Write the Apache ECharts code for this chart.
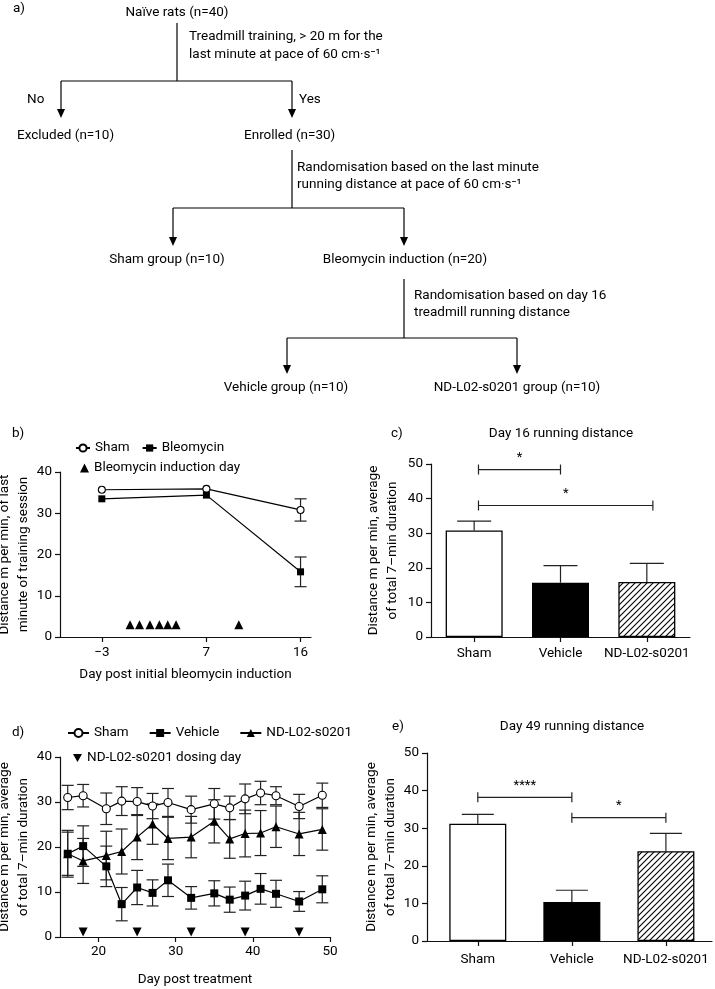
<!DOCTYPE html>
<html>
<head>
<meta charset="utf-8">
<script src="https://cdn.jsdelivr.net/npm/echarts@6/dist/echarts.min.js"></script>
<style>
  html, body { margin: 0; padding: 0; background: #fff; }
  #main { width: 715px; height: 989px; }
</style>
</head>
<body>
<div id="main"></div>
<script type="text/javascript">
    // panel b: training / bleomycin induction
    var bDays      = [-3, 7, 16];
    var bSham      = [35.7, 35.9, 30.8];
    var bShamErr   = [0, 0, 2.7];
    var bBleo      = [33.5, 34.4, 15.8];
    var bBleoErr   = [0, 0, 3.6];
    var bInduction = [-0.3, 0.6, 1.6, 2.5, 3.3, 4.1, 10.1];
    var bInductionY = 3;
    var bTicks     = [-3, 7, 16];

    // panel c + e: bar groups
    var groups   = ['Sham', 'Vehicle', 'ND-L02-s0201'];
    var cMean    = [30.8, 15.7, 15.9];
    var cErr     = [2.7, 4.9, 5.4];
    var cSig     = [[0.05, 1.0, 48.4], [0.05, 2.07, 38.0]];
    var cSigText = ['*', '*'];

    var eMean    = [31.2, 10.4, 23.9];
    var eErr     = [2.5, 3.1, 4.7];
    var eSig     = [[0, 1, 38.2], [1, 2, 32.8]];
    var eSigText = ['****', '*'];

    // panel d: time course after treatment
    var dDays    = [16, 18, 21, 23, 25, 27, 29, 32, 35, 37, 39, 41, 43, 46, 49];
    var dSham    = [31.0, 31.4, 28.5, 30.2, 30.1, 29.1, 29.9, 28.3, 29.6, 28.7, 30.7, 32.0, 31.4, 29.0, 31.5];
    var dShamErr = [2.7, 2.5, 3.5, 3.2, 3.1, 2.8, 3.1, 3.0, 3.4, 2.6, 3.3, 2.6, 2.0, 2.7, 2.7];
    var dVeh     = [18.5, 20.2, 15.7, 7.3, 11.0, 9.8, 12.6, 8.7, 9.7, 8.3, 9.2, 10.7, 9.6, 7.9, 10.6];
    var dVehErr  = [5.2, 4.5, 4.5, 3.7, 3.8, 2.9, 3.6, 2.5, 2.8, 2.8, 3.2, 3.4, 3.0, 2.2, 3.0];
    var dNd      = [18.5, 16.9, 18.1, 19.0, 22.2, 25.1, 21.9, 22.2, 25.7, 21.8, 23.0, 23.1, 24.5, 22.9, 23.9];
    var dNdErr   = [4.8, 5.0, 5.4, 5.0, 5.0, 4.5, 4.7, 4.6, 4.8, 4.3, 5.2, 5.0, 4.6, 4.8, 4.6];
    var dDosing  = [18, 25, 32, 39, 46];
    var dDosingY = 1.1;
    var dTicks   = [20, 30, 40, 50];

    var FONT = 'Roboto, "Noto Sans", sans-serif';

    function zip(xs, ys) { return xs.map(function (x, i) { return [x, ys[i]]; }); }
    function zip3(xs, ys, es) {
        return xs.map(function (x, i) { return [x, ys[i], es[i]]; })
                 .filter(function (d) { return d[2] > 0; });
    }
    function minus(v) { return v < 0 ? '\u2212' + (-v) : String(v); }

    // diagonal hatch for ND-L02-s0201 bars
    function hatch() {
        var c = document.createElement('canvas');
        c.width = 6; c.height = 6;
        var g = c.getContext('2d');
        g.fillStyle = '#fff'; g.fillRect(0, 0, 6, 6);
        g.strokeStyle = '#000'; g.lineWidth = 1.1;
        g.beginPath();
        g.moveTo(0, 6); g.lineTo(6, 0);
        g.moveTo(-1, 1); g.lineTo(1, -1);
        g.moveTo(5, 7); g.lineTo(7, 5);
        g.stroke();
        return c;
    }
    var barFills = ['#fff', '#000', { image: hatch(), repeat: 'repeat' }];

    function errorBars(cap, upOnly) {
        return function (params, api) {
            var x = api.value(0), m = api.value(1), e = api.value(2);
            var top = api.coord([x, m + e]);
            var bot = api.coord([x, upOnly ? m : m - e]);
            var st = { stroke: '#222', lineWidth: 1.2 };
            var kids = [
                { type: 'line', shape: { x1: top[0], y1: top[1], x2: bot[0], y2: bot[1] }, style: st },
                { type: 'line', shape: { x1: top[0] - cap, y1: top[1], x2: top[0] + cap, y2: top[1] }, style: st }
            ];
            if (!upOnly) {
                kids.push({ type: 'line', shape: { x1: bot[0] - cap, y1: bot[1], x2: bot[0] + cap, y2: bot[1] }, style: st });
            }
            return { type: 'group', children: kids };
        };
    }

    function brackets(texts) {
        return function (params, api) {
            var a = api.coord([api.value(0), api.value(2)]);
            var b = api.coord([api.value(1), api.value(2)]);
            var st = { stroke: '#222', lineWidth: 1.2 };
            return { type: 'group', children: [
                { type: 'line', shape: { x1: a[0], y1: a[1], x2: b[0], y2: b[1] }, style: st },
                { type: 'line', shape: { x1: a[0], y1: a[1] - 5, x2: a[0], y2: a[1] + 5 }, style: st },
                { type: 'line', shape: { x1: b[0], y1: b[1] - 5, x2: b[0], y2: b[1] + 5 }, style: st },
                { type: 'text', style: { text: texts[params.dataIndex], x: (a[0] + b[0]) / 2, y: a[1] - 12,
                    align: 'center', verticalAlign: 'middle', fontSize: 13, fontFamily: FONT, fill: '#000' } }
            ] };
        };
    }

    function axisBase(gridIndex) {
        return {
            gridIndex: gridIndex,
            axisLine: { show: true, onZero: false, lineStyle: { color: '#111', width: 1.2 } },
            axisTick: { show: true, length: 5, lineStyle: { color: '#111', width: 1.2 } },
            axisLabel: { color: '#000', fontSize: 13.5, fontFamily: FONT },
            splitLine: { show: false },
            nameTextStyle: { color: '#000', fontSize: 13.5, fontFamily: FONT, lineHeight: 19 }
        };
    }
    function extend(a, b) { for (var k in b) a[k] = b[k]; return a; }

    // ---------- flow chart (panel a) ----------
    var graphics = [];
    function txt(s, x, y, align, size) {
        graphics.push({ type: 'text', style: { text: s, x: x, y: y, align: align || 'left', verticalAlign: 'middle',
            fontSize: size || 13.5, fontFamily: FONT, fill: '#000' } });
    }
    function seg(x1, y1, x2, y2) {
        graphics.push({ type: 'line', shape: { x1: x1, y1: y1, x2: x2, y2: y2 }, style: { stroke: '#000', lineWidth: 1.2 } });
    }
    function arrow(x, y1, y2) {
        seg(x, y1, x, y2 - 6);
        graphics.push({ type: 'polygon', shape: { points: [[x - 4, y2 - 9], [x + 4, y2 - 9], [x, y2]] }, style: { fill: '#000' } });
    }
    txt('a)', 13, 9);
    txt('Naïve rats (n=40)', 177, 13, 'center');
    seg(177, 23, 177, 81);
    txt('Treadmill training, > 20 m for the', 189, 37);
    txt('last minute at pace of 60 cm·s⁻¹', 189, 55);
    seg(61, 81, 292, 81);
    arrow(61, 81, 118); arrow(292, 81, 118);
    txt('No', 27, 100); txt('Yes', 299, 100);
    txt('Excluded (n=10)', 17, 136); txt('Enrolled (n=30)', 244, 136);
    seg(292, 150, 292, 208);
    txt('Randomisation based on the last minute', 297, 168);
    txt('running distance at pace of 60 cm·s⁻¹', 297, 185);
    seg(173, 208, 404, 208);
    arrow(173, 208, 246); arrow(404, 208, 246);
    txt('Sham group (n=10)', 167, 260, 'center');
    txt('Bleomycin induction (n=20)', 405, 260, 'center');
    seg(404, 279, 404, 338);
    txt('Randomisation based on day 16', 414, 296);
    txt('treadmill running distance', 414, 313);
    seg(287, 338, 517, 338);
    arrow(287, 338, 374); arrow(517, 338, 374);
    txt('Vehicle group (n=10)', 286, 388, 'center');
    txt('ND-L02-s0201 group (n=10)', 517, 388, 'center');
    txt('b)', 12, 434); txt('c)', 391, 434);
    txt('Day 16 running distance', 561, 434, 'center');
    txt('d)', 12, 733); txt('e)', 392, 727);
    txt('Day 49 running distance', 572, 727, 'center');

    var myChart = echarts.init(document.getElementById('main'), null, { renderer: 'canvas' });

    function legendName(n) { return n.replace(/^d:/, ''); }
    var legTxt = { color: '#000', fontSize: 13.5, fontFamily: FONT };
    var solid = { color: '#000', opacity: 1 };

    var option = {
        animation: false,
        backgroundColor: '#fff',
        textStyle: { fontFamily: FONT },
        graphic: graphics,
        grid: [
            { left: 60,  top: 472, width: 251, height: 165, outerBoundsMode: 'none' },
            { left: 431, top: 464, width: 259, height: 173, outerBoundsMode: 'none' },
            { left: 60,  top: 757, width: 270, height: 180, outerBoundsMode: 'none' },
            { left: 427, top: 753, width: 285, height: 188, outerBoundsMode: 'none' }
        ],
        legend: [
            { left: 75, top: 441, padding: 0, itemWidth: 14, itemHeight: 9, itemGap: 12, selectedMode: false,
              data: ['Sham', 'Bleomycin'], textStyle: legTxt },
            { left: 80, top: 461, padding: 0, itemWidth: 9, itemHeight: 9, selectedMode: false,
              data: ['Bleomycin induction day'], textStyle: legTxt, itemStyle: solid },
            { left: 67, top: 726, padding: 0, itemWidth: 21, itemHeight: 10, itemGap: 20, selectedMode: false,
              data: ['d:Sham', 'd:Vehicle', 'd:ND-L02-s0201'], formatter: legendName, textStyle: legTxt },
            { left: 73, top: 751, padding: 0, itemWidth: 9, itemHeight: 9, selectedMode: false,
              data: [{ name: 'd:ND-L02-s0201 dosing day', icon: 'path://M0,0 L10,0 L5,9 Z' }], formatter: legendName,
              textStyle: legTxt, itemStyle: solid }
        ],
        xAxis: [
            extend(axisBase(0), { type: 'value', min: -7, max: 17,
                name: 'Day post initial bleomycin induction', nameLocation: 'middle', nameGap: 28,
                axisTick: { show: true, length: 5, customValues: bTicks, lineStyle: { color: '#111', width: 1.2 } },
                axisLabel: { color: '#000', fontSize: 13.5, fontFamily: FONT, margin: 9, customValues: bTicks, formatter: minus } }),
            extend(axisBase(1), { type: 'value', min: -0.5, max: 2.5,
                axisTick: { show: true, length: 5, customValues: [0, 1, 2], lineStyle: { color: '#111', width: 1.2 } },
                axisLabel: { color: '#000', fontSize: 13.5, fontFamily: FONT, margin: 10, customValues: [0, 1, 2],
                    formatter: function (v) { return groups[v]; } } }),
            extend(axisBase(2), { type: 'value', min: 15, max: 50,
                name: 'Day post treatment', nameLocation: 'middle', nameGap: 33,
                axisTick: { show: true, length: 5, customValues: dTicks, lineStyle: { color: '#111', width: 1.2 } },
                axisLabel: { color: '#000', fontSize: 13.5, fontFamily: FONT, margin: 8, customValues: dTicks } }),
            extend(axisBase(3), { type: 'value', min: -0.54, max: 2.49,
                axisTick: { show: true, length: 5, customValues: [0, 1, 2], lineStyle: { color: '#111', width: 1.2 } },
                axisLabel: { color: '#000', fontSize: 13.5, fontFamily: FONT, margin: 12, customValues: [0, 1, 2],
                    formatter: function (v) { return groups[v]; } } })
        ],
        yAxis: [
            extend(axisBase(0), { type: 'value', min: 0, max: 40, interval: 10,
                name: 'Distance m per min, of last\nminute of training session', nameLocation: 'middle', nameGap: 20 }),
            extend(axisBase(1), { type: 'value', min: 0, max: 50, interval: 10,
                name: 'Distance m per min, average\nof total 7–min duration', nameLocation: 'middle', nameGap: 29 }),
            extend(axisBase(2), { type: 'value', min: 0, max: 40, interval: 10,
                name: 'Distance m per min, average\nof total 7–min duration', nameLocation: 'middle', nameGap: 19 }),
            extend(axisBase(3), { type: 'value', min: 0, max: 50, interval: 10,
                name: 'Distance m per min, average\nof total 7–min duration', nameLocation: 'middle', nameGap: 22 })
        ],
        series: [
            // ----- b -----
            { type: 'custom', xAxisIndex: 0, yAxisIndex: 0, renderItem: errorBars(6, false), clip: false,
              encode: { x: 0, y: 1 }, data: zip3(bDays, bSham, bShamErr), z: 1 },
            { type: 'custom', xAxisIndex: 0, yAxisIndex: 0, renderItem: errorBars(6, false), clip: false,
              encode: { x: 0, y: 1 }, data: zip3(bDays, bBleo, bBleoErr), z: 1 },
            { name: 'Sham', type: 'line', xAxisIndex: 0, yAxisIndex: 0, data: zip(bDays, bSham),
              symbol: 'circle', symbolSize: 7, showAllSymbol: true, z: 3,
              lineStyle: { color: '#000', width: 1.2 },
              itemStyle: { color: '#fff', borderColor: '#000', borderWidth: 1.1 } },
            { name: 'Bleomycin', type: 'line', xAxisIndex: 0, yAxisIndex: 0, data: zip(bDays, bBleo),
              symbol: 'rect', symbolSize: 7, z: 3,
              lineStyle: { color: '#000', width: 1.2 }, itemStyle: { color: '#000' } },
            { name: 'Bleomycin induction day', type: 'scatter', xAxisIndex: 0, yAxisIndex: 0,
              data: bInduction.map(function (d) { return [d, bInductionY]; }),
              symbol: 'triangle', symbolSize: 9, itemStyle: solid },

            // ----- c -----
            { type: 'bar', xAxisIndex: 1, yAxisIndex: 1, barWidth: 57, z: 2,
              data: cMean.map(function (v, i) {
                  return { value: [i, v], itemStyle: { color: barFills[i], borderColor: '#000', borderWidth: 1.3 } };
              }) },
            { type: 'custom', xAxisIndex: 1, yAxisIndex: 1, renderItem: errorBars(17, true), clip: false, z: 1,
              encode: { x: 0, y: 1 }, data: cMean.map(function (v, i) { return [i, v, cErr[i]]; }) },
            { type: 'custom', xAxisIndex: 1, yAxisIndex: 1, renderItem: brackets(cSigText), clip: false,
              encode: { x: [0, 1], y: 2 }, data: cSig },

            // ----- d -----
            { type: 'custom', xAxisIndex: 2, yAxisIndex: 2, renderItem: errorBars(6, false), clip: false, z: 1,
              encode: { x: 0, y: 1 }, data: zip3(dDays, dSham, dShamErr) },
            { type: 'custom', xAxisIndex: 2, yAxisIndex: 2, renderItem: errorBars(6, false), clip: false, z: 1,
              encode: { x: 0, y: 1 }, data: zip3(dDays, dVeh, dVehErr) },
            { type: 'custom', xAxisIndex: 2, yAxisIndex: 2, renderItem: errorBars(6, false), clip: false, z: 1,
              encode: { x: 0, y: 1 }, data: zip3(dDays, dNd, dNdErr) },
            { name: 'd:Sham', type: 'line', xAxisIndex: 2, yAxisIndex: 2, data: zip(dDays, dSham),
              symbol: 'circle', symbolSize: 8, z: 3,
              lineStyle: { color: '#000', width: 1.2 },
              itemStyle: { color: '#fff', borderColor: '#000', borderWidth: 1.1 } },
            { name: 'd:Vehicle', type: 'line', xAxisIndex: 2, yAxisIndex: 2, data: zip(dDays, dVeh),
              symbol: 'rect', symbolSize: 8, z: 3,
              lineStyle: { color: '#000', width: 1.2 }, itemStyle: { color: '#000' } },
            { name: 'd:ND-L02-s0201', type: 'line', xAxisIndex: 2, yAxisIndex: 2, data: zip(dDays, dNd),
              symbol: 'triangle', symbolSize: 9, z: 3,
              lineStyle: { color: '#000', width: 1.2 }, itemStyle: { color: '#000' } },
            { name: 'd:ND-L02-s0201 dosing day', type: 'scatter', xAxisIndex: 2, yAxisIndex: 2,
              data: dDosing.map(function (d) { return [d, dDosingY]; }),
              symbol: 'triangle', symbolRotate: 180, symbolSize: 9, itemStyle: solid },

            // ----- e -----
            { type: 'bar', xAxisIndex: 3, yAxisIndex: 3, barWidth: 57, z: 2,
              data: eMean.map(function (v, i) {
                  return { value: [i, v], itemStyle: { color: barFills[i], borderColor: '#000', borderWidth: 1.3 } };
              }) },
            { type: 'custom', xAxisIndex: 3, yAxisIndex: 3, renderItem: errorBars(16, true), clip: false, z: 1,
              encode: { x: 0, y: 1 }, data: eMean.map(function (v, i) { return [i, v, eErr[i]]; }) },
            { type: 'custom', xAxisIndex: 3, yAxisIndex: 3, renderItem: brackets(eSigText), clip: false,
              encode: { x: [0, 1], y: 2 }, data: eSig }
        ]
    };
    myChart.setOption(option);
</script>
</body>
</html>
